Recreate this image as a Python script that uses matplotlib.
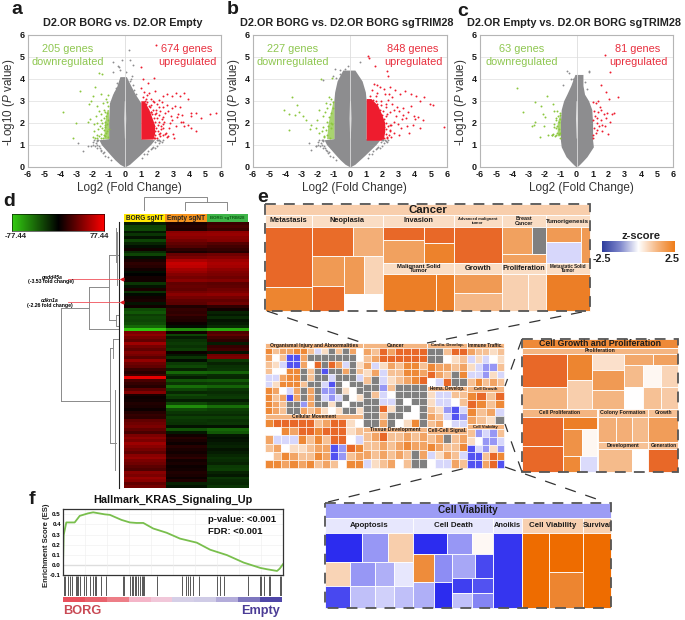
import numpy as np
import matplotlib
matplotlib.use("Agg")
import matplotlib.pyplot as plt
from matplotlib.colors import LinearSegmentedColormap
from matplotlib.patches import Rectangle

plt.rcParams['font.family'] = ['Liberation Sans', 'DejaVu Sans']
plt.rcParams['mathtext.fontset'] = 'custom'
plt.rcParams['mathtext.rm'] = 'Liberation Sans'
plt.rcParams['mathtext.it'] = 'Liberation Sans:italic'
plt.rcParams['axes.unicode_minus'] = False

W, H = 685, 620

# volcano data: gray cloud outline per -log10 P level, plus single genes
a_levels = [0.0, 0.1, 0.3, 0.5, 0.75, 1.0, 1.22, 1.27, 2.0, 2.9, 3.3, 3.65, 4.1]
a_left = [-0.05, -0.3, -0.6, -0.85, -1.15, -1.45, -1.6, -1.0, -1.0, -0.95, -0.75, -0.5, -0.3]
a_right = [0.05, 0.3, 0.6, 0.9, 1.25, 1.6, 1.85, 1.0, 1.0, 1.0, 0.65, 0.4, 0.1]
a_red_levels = [1.25, 1.5, 1.9, 2.2, 2.6, 3.0]
a_red_edge = [1.75, 1.85, 1.85, 1.7, 1.5, 1.2]
a_green_levels = [1.27, 2.0, 2.6]
a_green_edge = [-1.3, -1.25, -1.1]
a_gray_x = [-0.7, -0.4, -0.3, 0.25, 0.3, 0.5, -0.75, -0.2, 0.45, -2.6, -2.9, -2.3, -0.35, 0.1,
            -0.55, -0.45, -0.3, -0.2, -0.6, 0.5, 0.3, 0.4, 0.55, 0.7, 0.2]
a_gray_y = [4.75, 4.6, 4.4, 5.3, 4.85, 4.65, 4.3, 4.85, 4.15, 0.7, 1.05, 0.95, 4.55, 4.3,
            3.6, 3.8, 3.9, 4.0, 3.4, 3.7, 3.9, 4.0, 3.5, 3.3, 3.75]
fringe_x = [-1.7, -1.8, -1.9, -2.0, -1.6, -1.7, -1.5, -1.35, -1.25, -1.55, -2.1, -1.95, -1.3, -1.05, -0.85, -1.45, -1.75, -1.85, -1.65, -1.75,
            1.9, 2.0, 2.1, 2.2, 1.75, 1.85, 1.6, 1.45, 1.2, 2.0, 2.3, 1.1, 1.35, 1.7, 2.05, 2.35, 2.15]
fringe_y = [1.15, 1.05, 1.2, 1.1, 0.95, 0.85, 0.75, 0.6, 0.5, 0.85, 0.95, 1.0, 0.65, 0.45, 0.3, 0.7, 1.0, 0.95, 1.2, 1.22,
            1.1, 1.2, 1.05, 1.15, 0.9, 0.85, 0.8, 0.7, 0.55, 0.95, 1.1, 0.4, 0.55, 0.85, 1.2, 1.22, 1.2]
a_green_x = [-3.8, -2.75, -3.05, -3.2, -1.6, -1.4, -1.85, -1.95, -2.1, -2.2, -1.5, -1.75, -1.35, -1.15, -1.3,
             -1.05, -1.1, -1.2, -1.45, -1.6, -1.8, -2.3, -2.15, -1.9, -1.7, -1.5, -1.3, -1.15, -1.05, -1.25,
             -1.55, -1.65, -1.4, -1.3, -1.2, -1.1, -1.75, -1.9, -2.0, -1.6, -1.45, -1.3, -1.15, -1.05, -1.5,
             -1.35, -1.2, -1.1, -1.7, -1.85, -1.05, -1.2, -1.0, -1.4, -1.1]
a_green_y = [2.5, 3.45, 2.0, 1.3, 4.25, 4.2, 3.65, 3.2, 3.0, 2.85, 3.3, 2.75, 2.9, 3.1, 2.6,
             3.25, 2.95, 2.5, 2.4, 2.55, 2.3, 2.05, 2.15, 1.95, 2.0, 2.1, 2.2, 2.3, 2.75, 1.9,
             1.85, 1.7, 1.75, 1.65, 1.8, 1.95, 1.45, 1.6, 1.35, 1.4, 1.5, 1.45, 1.55, 1.35, 1.3,
             1.3, 1.4, 1.6, 1.3, 1.3, 2.1, 2.05, 1.7, 2.0, 2.45]
a_red_x = [1.95, 1.0, 1.13, 1.8, 1.45, 1.0, 2.6, 3.2, 3.4, 3.7, 3.9, 2.9, 2.4, 3.55, 4.1, 4.4, 5.3, 5.65, 4.1, 4.75,
           4.4, 4.1, 3.9, 3.6, 3.0, 2.7, 3.3, 3.1, 2.85, 2.6, 2.4, 2.2, 2.75, 2.55, 2.35, 2.95, 3.15, 3.45, 2.1, 2.3,
           2.0, 1.8, 1.6, 1.4, 1.2, 1.85, 1.55, 1.3, 2.15, 2.45, 2.25, 2.05, 2.7, 2.5, 2.15, 2.35, 2.6, 1.75, 1.95, 2.2,
           3.05, 2.8, 3.5, 3.25, 2.9, 3.65, 1.5, 1.25, 1.15, 1.65,
           1.8, 1.9, 2.0, 2.1, 1.85, 1.95, 2.05, 1.8, 1.9, 2.0, 1.8, 1.7, 1.85, 1.95, 1.6, 1.75, 1.5, 1.65, 1.4, 1.3,
           1.15, 1.75, 2.2, 2.25, 2.15, 2.3, 2.4, 2.5, 2.35, 1.9]
a_red_y = [5.55, 4.55, 4.0, 4.05, 3.8, 3.6, 3.3, 3.35, 3.2, 3.35, 3.1, 3.2, 3.2, 2.35, 2.45, 2.45, 2.4, 2.45, 2.3, 2.2,
           1.6, 1.75, 1.9, 2.05, 1.5, 1.4, 2.4, 2.75, 2.3, 2.8, 2.7, 2.55, 1.75, 1.55, 2.25, 2.1, 1.85, 2.7, 3.05, 2.95,
           2.85, 2.95, 3.1, 3.25, 3.4, 3.45, 2.7, 2.85, 2.35, 2.05, 1.85, 1.6, 2.55, 2.45, 2.7, 1.45, 1.35, 3.0, 2.6, 1.4,
           1.3, 2.0, 2.05, 2.25, 2.65, 1.85, 3.35, 3.0, 2.8, 2.5,
           1.3, 1.45, 1.3, 1.5, 1.6, 1.75, 1.9, 1.85, 2.05, 2.2, 2.2, 2.4, 2.4, 2.45, 2.5, 2.6, 2.75, 2.8, 2.95, 3.1,
           3.15, 1.35, 1.55, 1.7, 2.05, 2.15, 1.75, 1.5, 1.95, 1.3]

b_levels = [0.0, 0.1, 0.3, 0.5, 0.75, 1.0, 1.22, 1.27, 2.0, 3.0, 3.4, 3.9, 4.4]
b_left = [-0.05, -0.3, -0.6, -0.85, -1.15, -1.45, -1.6, -1.0, -1.0, -1.0, -0.95, -0.8, -0.45]
b_right = [0.05, 0.3, 0.6, 0.9, 1.25, 1.6, 1.85, 1.0, 1.0, 1.0, 0.95, 0.75, 0.3]
b_red_levels = [1.2, 1.6, 2.0, 2.4, 2.8, 3.1]
b_red_edge = [2.05, 2.15, 2.15, 1.95, 1.7, 1.3]
b_green_levels = [1.27, 2.0, 3.0]
b_green_edge = [-1.45, -1.35, -1.05]
b_gray_x = [-0.6, -0.1, 0.6, -0.85, -1.05, -2.4, -2.55, -1.7, -2.1, -0.9, -0.3, -0.6, 0.4, 0.6, 0.8]
b_gray_y = [4.4, 4.6, 4.75, 4.05, 4.15, 0.75, 1.05, 3.95, 0.95, 4.45, 4.45, 4.2, 4.0, 3.7, 3.5]
b_green_x = [-4.1, -3.75, -3.6, -3.8, -3.25, -3.15, -3.4, -2.9, -2.75, -2.4, -2.1, -2.5, -1.8, -1.5, -1.9, -2.05, -1.3, -1.2, -1.1, -1.7,
             -1.55, -1.4, -1.25, -1.15, -1.05, -1.65, -1.45, -1.3, -1.15, -1.05, -1.9, -1.75, -1.6, -1.5, -1.35, -1.2, -1.1, -1.6, -1.4, -1.25]
b_green_y = [2.6, 2.4, 3.15, 1.65, 2.8, 2.5, 2.35, 2.3, 2.1, 1.9, 1.75, 1.7, 4.0, 2.9, 2.6, 2.1, 3.15, 3.1, 4.05, 2.3,
             2.5, 2.65, 2.85, 2.45, 2.95, 1.8, 2.05, 2.25, 2.0, 2.65, 1.55, 1.6, 1.4, 1.65, 1.85, 1.75, 1.95, 1.35, 1.45, 1.3]
b_red_x = [1.1, 1.2, 1.55, 2.3, 2.35, 1.5, 1.65, 1.85, 2.1, 2.45, 2.8, 3.1, 3.4, 3.8, 4.1, 4.6, 4.95, 5.15, 5.8, 4.3,
           3.75, 3.95, 4.05, 4.2, 4.35, 3.3, 3.05, 2.9, 3.2, 2.85, 2.6, 3.5, 3.45, 2.7, 3.65, 3.15, 2.95, 2.55, 2.4, 4.5,
           3.9, 3.3, 2.35, 2.6, 2.75, 2.5, 2.25, 2.45, 2.3, 2.5, 3.0, 3.6, 2.4, 2.15, 1.9, 1.7, 2.2, 2.7, 1.35, 1.6,
           2.1, 2.2, 2.3, 2.25, 2.1, 2.2, 2.35, 2.1, 2.0, 2.2, 2.05, 1.85, 1.9, 1.7, 1.6, 1.45, 1.25, 2.45, 2.55, 2.3]
b_red_y = [5.05, 4.95, 4.6, 4.35, 4.15, 3.75, 3.7, 3.65, 3.55, 3.65, 3.5, 3.3, 3.45, 3.3, 3.2, 3.15, 2.85, 2.8, 1.8, 3.0,
           2.75, 2.3, 2.15, 2.25, 1.75, 2.35, 2.55, 2.7, 2.15, 2.3, 2.85, 1.85, 2.2, 2.05, 1.55, 1.75, 1.95, 1.35, 1.45, 2.1,
           1.9, 2.65, 3.05, 3.15, 1.55, 1.65, 2.85, 2.5, 1.3, 1.9, 1.45, 2.5, 3.3, 3.3, 3.0, 3.35, 2.7, 2.6, 3.5, 3.2,
           1.3, 1.5, 1.35, 1.7, 1.8, 2.0, 1.85, 2.15, 2.35, 2.3, 2.55, 2.6, 2.8, 2.85, 3.0, 3.05, 3.2, 1.6, 1.9, 2.4]

c_levels = [0.0, 0.1, 0.25, 0.45, 0.9, 1.2, 2.0, 2.6, 3.0, 3.3, 3.7, 4.2]
c_left = [-0.05, -0.2, -0.4, -0.65, -0.95, -1.0, -1.0, -0.95, -0.8, -0.6, -0.35, -0.1]
c_right = [0.05, 0.2, 0.4, 0.65, 1.05, 1.0, 1.0, 0.95, 0.75, 0.5, 0.4, 0.4]
c_green_levels = [1.4, 2.0, 2.35]
c_green_edge = [-1.2, -1.2, -1.05]
c_gray_x = [-0.6, -0.45, 0.75, 0.8, -0.2, -0.35, 0.65, -0.85, 0.55]
c_gray_y = [4.35, 4.25, 4.35, 4.3, 4.0, 4.0, 3.55, 3.7, 3.85]
c_green_x = [-3.7, -3.3, -2.6, -2.2, -2.75, -2.65, -2.55, -2.0, -1.85, -1.45, -1.4, -2.3, -1.75, -1.55, -1.35, -1.2, -1.05, -1.1, -1.25, -1.1,
             -1.05, -1.4, -1.3, -1.15, -1.45, -1.5, -1.2, -1.05, -1.25, -1.1, -1.4, -1.0, -1.95, -2.1, -1.2, -1.05, -1.3]
c_green_y = [3.6, 2.5, 2.95, 2.75, 1.85, 1.9, 2.05, 1.85, 3.2, 2.85, 2.55, 1.35, 1.45, 1.45, 1.4, 1.55, 2.35, 2.05, 1.75, 1.7,
             2.15, 1.95, 2.2, 2.3, 1.5, 1.45, 1.85, 2.45, 2.1, 1.5, 1.8, 1.55, 2.25, 2.4, 2.55, 1.3, 1.45]
c_red_x = [1.8, 2.1, 1.55, 1.85, 2.0, 2.6, 1.0, 1.2, 1.35, 1.45, 1.55, 1.9, 2.2, 2.35, 2.1, 1.7, 1.3, 1.1, 1.05, 1.25,
           1.4, 1.6, 1.8, 1.95, 1.2, 1.05, 1.5, 1.3, 1.1, 1.85, 1.15, 1.35, 1.6, 1.05]
c_red_y = [5.1, 4.3, 3.7, 3.4, 3.1, 3.15, 2.95, 2.9, 3.0, 2.7, 2.6, 2.45, 2.4, 2.45, 2.05, 2.4, 2.2, 2.55, 2.1, 2.0,
           1.85, 1.9, 1.85, 1.5, 1.55, 1.3, 2.1, 1.65, 1.75, 2.2, 2.3, 2.5, 1.6, 1.45]

# heatmap rows (values between -77.44 and 77.44)
heat_borg = [-12, -28, -30, -10, -22, -8, -28, -15, -6, 6,
             -18, -28, -6, 8, 14, 12, 6, -5, 0, 6,
             6, -22, -8, 8, -20, -4, 6, 8, -8, 5,
             -30, -36, -25, -30, -28, -32, -42, -75, 38, 44,
             36, 30, 48, 36, 30, 40, 36, 28, 45, 34,
             30, 18, 12, 20, 70, 22, 16, 12, 28, 40,
             8, 4, 6, 10, 8, 4, 12, 16, 14, 30,
             34, 38, 30, 22, 38, 44, 38, 48, 42, 36,
             30, 42, 46, 38, 34, 28, 24, 42, 38, 46,
             42, 30, 36]
heat_empty = [8, 12, 10, 42, 45, 42, 36, 30, 25, 14,
              8, 32, 38, 52, 60, 58, 50, 46, 40, 36,
              42, 30, 32, 30, 36, 42, 36, 30, 28, 10,
              16, 14, 18, 12, 10, 4, -6, -55, 6, -28,
              -12, -20, -24, -20, -26, 4, -10, -22, -6, -24,
              -30, -14, -42, -22, -12, -34, -22, -44, -28, -16,
              -30, -24, -12, -30, -55, -30, -22, -18, -26, -22,
              -20, -8, -34, -10, 6, 12, 8, 4, 12, 8,
              6, 10, 14, 6, 8, 4, 6, 10, 8, 4,
              10, -14, -8]
heat_trim = [18, 22, 18, 44, 46, 42, 40, 26, 20, 16,
             12, 34, 40, 48, 52, 50, 44, 40, 38, 34,
             40, 28, 30, 34, 38, 44, 36, 30, 34, 14,
             6, -14, -10, -18, -8, -12, -18, -65, 24, 30,
             20, 14, -12, 16, 20, -8, 34, 38, -24, -14,
             -20, -22, -40, -18, -16, -36, -24, -40, -22, -18,
             -22, -24, -12, -22, -44, -26, -22, -18, -26, -20,
             -22, -8, -42, -36, -10, -6, -8, -12, -14, -8,
             -12, -16, -20, -18, -14, -24, -26, -14, -10, -22,
             -18, -16, -22]
heat_labels = ["BORG sgNT", "Empty sgNT", "BORG sgTRIM28"]

# GSEA curve
es_rank = [0, 0.3, 1.5, 5.3, 7.6, 11.4, 13.7, 19, 21.3, 26.6, 30.4, 33.4, 36.5, 41, 47.1, 53.2, 60.8, 66.9, 74.5, 82.1, 89.7, 92.7, 97.3, 98.5, 100]
es_score = [0, 0.295, 0.42, 0.42, 0.485, 0.51, 0.52, 0.50, 0.495, 0.445, 0.42, 0.415, 0.415, 0.36, 0.318, 0.26, 0.22, 0.15, 0.097, 0.023, -0.03, -0.043, -0.06, -0.037, 0.007]
hit_rank = [0.5, 1.1, 2.3, 3.3, 4.3, 5.8, 6.4, 6.8, 7.6, 9.6, 10.6, 12.2, 13.7, 14.4, 15.2, 17.2, 19.5,
            27.1, 27.7, 30.4, 31.2, 31.9, 32.7, 33.4, 34.2, 35, 35.7, 36.5, 36.9, 42.6,
            53.9, 55.8, 57, 57.8, 59.3, 61.6, 69.9, 71.4, 73, 83.9, 89.4, 90.1, 91.2, 93.5, 93.9, 98.5, 99.1]
strip_colors = ['#e8505c', '#e9636d', '#ee7f88', '#f4b5c8', '#f1c8da', '#d6d0e8', '#cfcbe6', '#b5aedb', '#7f78c0', '#4f47a8']

# treemap z scores; None is a gray cell, ('h'|'v', [(weight, child), ...]) splits a box
GRAY = None
T_metastasis = ('v', [(180, 2.25), (72, 1.9)])
T_neoplasia = ('v', [(88, ('h', [(123, 2.2), (92, 1.3)])),
                     (164, ('h', [(98, ('v', [(89, 1.6), (75, 2.2)])),
                                  (117, ('v', [(114, ('h', [(59, 1.6), (58, 0.7)])), (50, 0.0)]))]))])
T_invasion = ('h', [(123, ('v', [(40, 2.25), (68, 1.5)])), (90, ('v', [(50, 2.25), (58, 1.95)]))])
T_malignant = ('h', [(157, 2.0), (56, 2.0)])
T_advanced = 2.25
T_growth = ('v', [(58, 1.6), (52, 1.15)])
T_breast = ('v', [(83, ('h', [(90, 1.5), (43, GRAY)])), (25, 1.5)])
T_prolif = ('h', [(80, 0.75), (53, 0.7)])
T_tumorigen = ('h', [(104, ('v', [(45, 1.6), (63, -0.5)])), (28, 1.6)])
T_metastatic = 2.0

G_prolif = ('h', [(135, ('v', [(98, 2.25), (67, 1.2)])),
                  (75, ('v', [(78, 1.9), (87, 0.8)])),
                  (96, ('v', [(48, 0.5), (60, 1.6), (57, 1.2)])),
                  (162, ('v', [(33, ('h', [(85, 1.4), (77, 1.5)])),
                               (67, ('h', [(57, 1.1), (53, 0.12), (52, 0.7)])),
                               (65, ('h', [(57, 0.0), (53, 1.0), (52, 0.85)]))]))])
G_cellprolif = ('h', [(123, ('v', [(88, 2.25), (79, 2.25)])),
                      (100, ('v', [(37, 2.0), (80, ('h', [(55, 1.7), (45, 0.12)])),
                                   (50, ('h', [(50, 1.85), (50, -0.45)]))]))])
G_colony = ('h', [(54, 1.3), (48, 1.3), (50, 1.1)])
G_growth = 1.55
G_dev = ('h', [(102, 1.1), (50, 0.0)])
G_gen = 2.25

V_apoptosis = ('v', [(87, ('h', [(110, -2.4), (78, -1.3), (77, 0.8)])),
                     (73, ('h', [(75, 0.7), (75, -1.3), (58, -1.0), (57, -0.3)])),
                     (67, ('h', [(75, -2.1), (75, -0.8), (58, -0.6), (57, -0.8)]))])
V_death = ('v', [(65, ('h', [(102, -2.4), (73, -1.3), (63, 0.1)])),
                 (162, ('h', [(62, ('v', [(82, 1.8), (80, -1.0)])),
                              (55, ('v', [(82, -1.4), (80, -2.4)])),
                              (121, ('v', [(72, ('h', [(68, -1.1), (53, -2.1)])),
                                           (45, ('h', [(60, -2.2), (61, -2.0)])),
                                           (45, ('h', [(60, -0.8), (61, -1.5)]))]))]))])
V_anoikis = -2.3
V_viability = ('h', [(83, 2.5), (100, ('v', [(117, 2.5), (110, 1.9)]))])
V_survival = 2.5

# overview map cells, one letter for each z score level
Z_CODE = {'O': 2.25, 'o': 1.85, 'm': 1.45, 'l': 1.0, 'p': 0.55, 'w': 0.0, 'b': -0.5, 'B': -1.3, 'D': -2.0, 'x': GRAY}
M_organismal = ["olmmoolbpxlxmw", "mwlDDmxxxxxxxw", "lpbDDmwOxOmbxp", "lwwooxlxDxxmxl", "bbmooxlxxbxxxb",
                "bpooolxxbDxwxx", "omwbmxmxBBxpwx", "olmDmxmxbBbxwp", "omlxxBmxxpxwxx", "omlxxmlmpwpxxp"]
M_movement = ["oOOOOOlmOOpw", "wwomOOoOOOpl", "mbbbololOOwb", "lmwpplmmDBOo", "wlomllomDBlm", "oomomolmlwoo"]
M_cancer = ["mlOmOOOO", "lmOOOOOO", "mbpmlool", "pmblloom", "lxbplmoO", "xxBlxxxx", "xlbwxxxx",
            "xxbbxwxx", "xxOpxxwx", "xxlxxwwx", "xxmxwpox"]
M_tissue = ["lmOllmlm", "llmlmomm", "mlmlmlxm", "bplmwlxx"]
M_cardio = ["xxlOO", "xxwpl", "ommlm", "Omlxo", "wbOxx"]
M_hema = ["pbbll", "pbbwl", "lpBDb", "mlbDB", "lmwbb"]
M_signal = ["lmxlm", "omllo", "bpmlb", "wbbml"]
M_immune = ["mllpl", "bpbwp", "pbBBl", "bbBpb", "lolml"]
M_cellgrowth = ["oOlO", "Oolo", "olmb", "mlpx"]
M_viability = ["lBbBl", "pwBBb", "DbBpB", "DDlOo", "DDmOD"]

zcmap = LinearSegmentedColormap.from_list('z', [(0, '#2222ee'), (0.25, '#9c9cf5'), (0.5, '#ffffff'), (0.75, '#f4b27c'),
                                                (0.9, '#ec7f26'), (0.95, '#e8682a'), (1, '#ee6c00')])
gapcmap = LinearSegmentedColormap.from_list('gap', ['#33cc11', '#000000', '#ff0000'])
heatcmap = LinearSegmentedColormap.from_list('heat', ['#33cc11', '#135e07', '#000000', '#7e0000', '#ff0000'])
es_green = '#79bf4d'


def zcolor(z):
    if z is None:
        return '#808080'
    return zcmap((z + 2.5) / 5)


def px_axes(left, top, right, bottom):
    return fig.add_axes([left / W, 1 - bottom / H, (right - left) / W, (bottom - top) / H])


def volcano(box, levels, left, right, gray, green, red, green_core, core=None):
    ax = px_axes(*box)
    ax.set_xlim(-6, 6)
    ax.set_ylim(0, 6)
    ax.set_xticks(range(-6, 7))
    ax.set_yticks(range(0, 7))
    ax.grid(axis='y', color='#e4e4e4', linewidth=0.6)
    ax.axvline(0, color='#dddddd', linewidth=0.6)
    ax.set_axisbelow(True)
    c_gray = '#8d8d8f'
    ax.fill_betweenx(levels, left, right, color=c_gray, linewidth=0)
    # pale channel at zero
    ax.fill_betweenx([1.3, 2.2, 3.0], [-0.02, -0.06, -0.03], [0.02, 0.06, 0.03], color='white', linewidth=0, alpha=0.75)
    ax.fill_betweenx(green_core[0], -1.0, green_core[1], color='#8cc63f', linewidth=0, alpha=0.75)
    if core is not None:
        ax.fill_betweenx(core[0], 1.0, core[1], color='#ee1c2e', linewidth=0)
    ax.scatter(*gray, s=1.8, color=c_gray, linewidths=0)
    ax.scatter(*green, s=2.0, color='#8cc63f', linewidths=0)
    ax.scatter(*red, s=2.0, color='#ee1c2e', linewidths=0)
    ax.tick_params(length=0, pad=2.5, labelsize=6.5, labelcolor='#1a1a1a')
    for t in ax.get_xticklabels() + ax.get_yticklabels():
        t.set_fontweight('bold')
    for s in ax.spines.values():
        s.set_color('#b5b5b5')
        s.set_linewidth(0.8)
    ax.set_xlabel("Log2 (Fold Change)", fontsize=8.5, color='#333333')
    ax.xaxis.set_label_coords(0.525, -0.115)
    ax.set_ylabel(r"-Log10 ($\it{P}$ value)", fontsize=8.4, color='#333333')
    ax.yaxis.set_label_coords(-0.057, 0.49)
    return ax


def split(node, x0, y0, x1, y1, out):
    if isinstance(node, tuple):
        total = sum(w for w, _ in node[1])
        pos = 0
        for w, child in node[1]:
            if node[0] == 'h':
                split(child, x0 + (x1 - x0) * pos / total, y0, x0 + (x1 - x0) * (pos + w) / total, y1, out)
            else:
                split(child, x0, y0 + (y1 - y0) * pos / total, x1, y0 + (y1 - y0) * (pos + w) / total, out)
            pos += w
    else:
        out.append((x0, y0, x1, y1, node))


def treemap(node, box, lw=0.6):
    cells = []
    split(node, *box, cells)
    for x0, y0, x1, y1, z in cells:
        ov.add_patch(Rectangle((x0, y0), x1 - x0, y1 - y0, facecolor=zcolor(z), edgecolor='white', linewidth=lw))


def grid_tree(rows):
    return ('v', [(1, ('h', [(1, Z_CODE[c]) for c in r])) for r in rows])


def band(box, z, text=None, size=6, color='#1a1a1a', weight='bold'):
    ov.add_patch(Rectangle((box[0], box[1]), box[2] - box[0], box[3] - box[1], facecolor=zcolor(z), edgecolor='white', linewidth=0.6))
    if text:
        ov.text((box[0] + box[2]) / 2, (box[1] + box[3]) / 2, text, fontsize=size, fontweight=weight, color=color,
                ha='center', va='center', linespacing=0.8)


def dashed_frame(box):
    ov.add_patch(Rectangle((box[0], box[1]), box[2] - box[0], box[3] - box[1], fill=False, edgecolor='#555555',
                           linewidth=1.3, linestyle=(0, (6, 4.5)), zorder=5))


def dashed_line(p, q):
    ov.plot([p[0], q[0]], [p[1], q[1]], color='#333333', linewidth=0.9, linestyle=(0, (9, 8)))


fig = plt.figure(figsize=(W / 100, H / 100), dpi=100)

# overlay in picture pixels for labels, treemaps and the heatmap dendrogram
ov = fig.add_axes([0, 0, 1, 1], zorder=5)
ov.set_xlim(0, W)
ov.set_ylim(H, 0)
ov.axis('off')
ov.patch.set_alpha(0)

# panels a, b, c
volcano((28, 35, 221.5, 166.5), a_levels, a_left, a_right, (a_gray_x + fringe_x, a_gray_y + fringe_y), (a_green_x, a_green_y), (a_red_x, a_red_y),
        (a_green_levels, a_green_edge), (a_red_levels, a_red_edge))
volcano((253, 35, 447, 166.5), b_levels, b_left, b_right, (b_gray_x + fringe_x, b_gray_y + fringe_y), (b_green_x, b_green_y), (b_red_x, b_red_y),
        (b_green_levels, b_green_edge), (b_red_levels, b_red_edge))
volcano((480, 35, 673, 166.5), c_levels, c_left, c_right, (c_gray_x, c_gray_y), (c_green_x, c_green_y), (c_red_x, c_red_y),
        (c_green_levels, c_green_edge))

titles = [(123, "D2.OR BORG vs. D2.OR Empty"), (347, "D2.OR BORG vs. D2.OR BORG sgTRIM28"), (574, "D2.OR Empty vs. D2.OR BORG sgTRIM28")]
for x, t in titles:
    ov.text(x, 23, t, fontsize=7.8, fontweight='bold', color='#222222', ha='center', va='center')

gene_text = [(68, 187, "205", "674"), (293, 413, "227", "848"), (522, 638, "63", "81")]
for xg, xr, ng, nr in gene_text:
    ov.text(xg, 49.5, ng + " genes", fontsize=7.9, color='#8fc751', ha='center', va='center')
    ov.text(xg, 62, "downregulated", fontsize=7.9, color='#8fc751', ha='center', va='center')
    ov.text(xr, 49.5, nr + " genes", fontsize=7.9, color='#e8303f', ha='center', va='center')
    ov.text(xr, 62, "upregulated", fontsize=7.9, color='#e8303f', ha='center', va='center')

for x, y, s in [(17, 10, 'a'), (233, 10, 'b'), (463, 11, 'c'), (9, 201, 'd'), (263, 198, 'e'), (32, 500, 'f')]:
    ov.text(x, y, s, fontsize=14, fontweight='bold', color='#1a1a1a', ha='center', va='center')

# panel d
ax_heat = px_axes(124, 222, 248, 488)
heat = np.array([heat_borg, heat_empty, heat_trim]).T
ax_heat.imshow(heat, cmap=heatcmap, vmin=-77.44, vmax=77.44, aspect='auto', interpolation='nearest')
ax_heat.axis('off')

head_col = ['#ffe800', '#f7941d', '#3fb54a']
head_txt = [('#222222', 4.7), ('#222222', 4.7), ('#0b5a12', 3.2)]
col_w = (248 - 124) / 3
for i, lab in enumerate(heat_labels):
    ov.add_patch(Rectangle((124 + i * col_w, 214), col_w, 8, facecolor=head_col[i], edgecolor='none'))
    ov.text(124 + (i + 0.5) * col_w, 218, lab, fontsize=head_txt[i][1], fontweight='bold', color=head_txt[i][0], ha='center', va='center')

ax_gap = px_axes(12, 214, 104, 231)
ax_gap.imshow(np.linspace(-77.44, 77.44, 200)[None, :], cmap=gapcmap, aspect='auto')
ax_gap.set_xticks([])
ax_gap.set_yticks([])
for s in ax_gap.spines.values():
    s.set_linewidth(0.4)
ov.text(16, 236.5, "-77.44", fontsize=5.6, fontweight='bold', ha='center', va='center', color='#222222')
ov.text(99, 236.5, "77.44", fontsize=5.6, fontweight='bold', ha='center', va='center', color='#222222')

dendro_gray = [((144, 144, 207, 207), (210, 197, 197, 202)), ((185, 185, 227, 227), (210, 202, 202, 210)),
               ((61, 61), (308, 401)), ((61, 89.5), (308, 308)), ((61, 110), (401, 401)),
               ((89.5, 89.5), (287, 329)), ((89.5, 109), (287, 287)), ((89.5, 118), (329, 329)),
               ((109, 109), (255, 320)), ((109, 118), (255, 255)), ((109, 116), (320, 320)),
               ((116, 116, 119), (315, 326, 326)), ((116, 119), (315, 315)), ((116, 116), (228, 262)),
               ((110, 110), (348, 443)), ((110, 113), (348, 348)), ((110, 116), (443, 443)),
               ((113, 113), (339, 358)), ((113, 118), (339, 339)), ((115, 115), (390, 470)), ((117, 117), (232, 285))]
for xs, ys in dendro_gray:
    ov.plot(xs, ys, color='#8a8a8a', linewidth=0.7)
ov.plot([119.5, 119.5], [222, 488], color='#222222', linewidth=0.8)

ov.plot([68, 122], [279, 279], color='#f0505a', linewidth=0.6)
ov.plot([122], [279], marker='<', color='#e01b24', markersize=2)
ov.plot([68, 122], [302, 302], color='#f0505a', linewidth=0.6)
ov.plot([122], [302], marker='<', color='#e01b24', markersize=2)
ov.text(51, 277, "gadd45a", fontsize=3.7, fontweight='bold', style='italic', ha='center', va='center')
ov.text(51, 282, "(-3.53 fold change)", fontsize=3.7, fontweight='bold', ha='center', va='center')
ov.text(50, 300, "cdkn1a", fontsize=3.7, fontweight='bold', style='italic', ha='center', va='center')
ov.text(50, 305, "(-2.26 fold change)", fontsize=3.7, fontweight='bold', ha='center', va='center')

# panel e: cancer detail
cx = lambda v: 260 + v / 3
cy = lambda v: 190 + v / 3
band((cx(15), cy(42), cx(990), cy(76)), 0.8, "Cancer", size=8.2)
heads = [(15, 155, "Metastasis", 5.3), (155, 370, "Neoplasia", 5.3), (370, 583, "Invasion", 5.3), (583, 725, "Advanced malignant\ntumor", 2.9),
         (725, 858, "Breast\nCancer", 3.9), (858, 990, "Tumorigenesis", 4.4)]
for x0, x1, t, sz in heads:
    band((cx(x0), cy(76), cx(x1), cy(110)), 0.55, t, size=sz)
treemap(T_metastasis, (cx(15), cy(110), cx(155), cy(362)))
treemap(T_neoplasia, (cx(155), cy(110), cx(370), cy(362)))
treemap(T_invasion, (cx(370), cy(110), cx(583), cy(218)))
treemap(T_advanced, (cx(583), cy(110), cx(725), cy(218)))
treemap(T_breast, (cx(725), cy(110), cx(858), cy(218)))
treemap(T_tumorigen, (cx(858), cy(110), cx(990), cy(218)))
heads2 = [(370, 583, "Malignant Solid\nTumor", 4.2), (583, 725, "Growth", 5.5), (725, 858, "Proliferation", 5.2), (858, 990, "Metastatic Solid\nTumor", 3.3)]
for x0, x1, t, sz in heads2:
    band((cx(x0), cy(218), cx(x1), cy(252)), 0.55, t, size=sz)
treemap(T_malignant, (cx(370), cy(252), cx(583), cy(362)))
treemap(T_growth, (cx(583), cy(252), cx(725), cy(362)))
treemap(T_prolif, (cx(725), cy(252), cx(858), cy(362)))
treemap(T_metastatic, (cx(858), cy(252), cx(990), cy(362)))
dashed_frame((cx(15), cy(42), cx(990), cy(362)))

# panel e: overview map
mx = lambda v: 260 + v / 3
my = lambda v: 330 + v / 3
overview = [(15, 308, 38, 53, 252, "Organismal Injury and Abnormalities", M_organismal, 3.6),
            (15, 308, 252, 268, 413, "Cellular Movement", M_movement, 3.5),
            (310, 502, 38, 53, 290, "Cancer", M_cancer, 3.7),
            (310, 502, 290, 305, 413, "Tissue Development", M_tissue, 3.7),
            (502, 622, 38, 53, 168, "Cardio. Develop.", M_cardio, 3.1),
            (502, 622, 168, 183, 292, "Hema. Develop.", M_hema, 3.3),
            (502, 622, 292, 313, 413, "Cell-Cell Signal.", M_signal, 3.6),
            (622, 732, 38, 53, 168, "Immune Traffic.", M_immune, 3.3),
            (622, 732, 168, 185, 282, "Cell Growth", M_cellgrowth, 3.1),
            (622, 732, 282, 298, 413, "Cell Viability", M_viability, 3.1)]
for x0, x1, y0, y1, y2, name, rows, sz in overview:
    band((mx(x0), my(y0), mx(x1), my(y1)), 1.2, name, size=sz)
    treemap(grid_tree(rows), (mx(x0), my(y1), mx(x1), my(y2)), lw=0.4)

# panel e: cell growth detail
gx = lambda v: 510 + v / 3
gy = lambda v: 330 + v / 3
band((gx(37), gy(27), gx(505), gy(53)), 1.85, "Cell Growth and Proliferation", size=6.3)
band((gx(37), gy(53), gx(505), gy(72)), 1.2, "Proliferation", size=3.7)
treemap(G_prolif, (gx(37), gy(72), gx(505), gy(237)))
band((gx(37), gy(237), gx(260), gy(260)), 1.2, "Cell Proliferation", size=3.6)
treemap(G_cellprolif, (gx(37), gy(260), gx(260), gy(427)))
band((gx(263), gy(237), gx(415), gy(260)), 1.0, "Colony Formation", size=3.8)
band((gx(415), gy(237), gx(505), gy(260)), 1.0, "Growth", size=3.6)
treemap(G_colony, (gx(263), gy(260), gx(415), gy(337)))
treemap(G_growth, (gx(415), gy(260), gx(505), gy(337)))
band((gx(263), gy(337), gx(415), gy(358)), 1.0, "Development", size=3.7)
band((gx(415), gy(337), gx(505), gy(358)), 1.0, "Generation", size=3.5)
treemap(G_dev, (gx(263), gy(358), gx(415), gy(427)))
treemap(G_gen, (gx(415), gy(358), gx(505), gy(427)))
dashed_frame((gx(37), gy(27), gx(505), gy(427)))

# panel e: cell viability detail
vx = lambda v: 310 + v / 3
vy = lambda v: 480 + v / 3
band((vx(45), vy(68), vx(903), vy(113)), -1.25, "Cell Viability", size=7.2)
for x0, x1, t, z, sz in [(45, 310, "Apoptosis", -0.3, 5.7), (310, 548, "Cell Death", -0.3, 5.7), (548, 635, "Anoikis", -0.3, 5.4),
                         (635, 818, "Cell Viability", 0.75, 5.7), (818, 903, "Survival", 0.75, 5.3)]:
    band((vx(x0), vy(113), vx(x1), vy(158)), z, t, size=sz)
treemap(V_apoptosis, (vx(45), vy(158), vx(310), vy(385)))
treemap(V_death, (vx(310), vy(158), vx(548), vy(385)))
treemap(V_anoikis, (vx(548), vy(158), vx(635), vy(385)))
treemap(V_viability, (vx(635), vy(158), vx(818), vy(385)))
treemap(V_survival, (vx(818), vy(158), vx(903), vy(385)))
dashed_frame((vx(45), vy(68), vx(903), vy(385)))

# zoom guide lines between the maps
dashed_line((267, 311), (363, 343))
dashed_line((582, 312), (427, 343))
dashed_line((522, 339), (505, 386))
dashed_line((522, 472), (505, 424))
dashed_line((505, 467), (605, 502))
dashed_line((328, 502), (466, 468))

# z-score scale
ax_z = px_axes(602, 241, 675, 252)
ax_z.imshow(np.linspace(-2.5, 2.5, 200)[None, :], cmap=LinearSegmentedColormap.from_list('zbar', ['#2f3e9e', '#8088cc', '#ffffff', '#f6b884', '#ef7d1a']), aspect='auto')
ax_z.axis('off')
ov.text(641, 236, "z-score", fontsize=8, fontweight='bold', color='#222222', ha='center', va='center')
ov.text(602, 259, "-2.5", fontsize=7.8, fontweight='bold', color='#222222', ha='center', va='center')
ov.text(672, 259, "2.5", fontsize=7.8, fontweight='bold', color='#222222', ha='center', va='center')

# panel f
ax_es = px_axes(63, 509, 283, 575)
ax_es.plot(es_rank, es_score, color=es_green, linewidth=1.3)
ax_es.set_xlim(0, 100)
ax_es.set_ylim(-0.1, 0.553)
ax_es.axhline(0, color='#c8c8c8', linewidth=0.9, zorder=0)
ax_es.set_yticks([-0.1, 0, 0.1, 0.2, 0.3, 0.4, 0.5])
ax_es.set_xticks(range(10, 100, 10))
ax_es.set_xticklabels([])
ax_es.grid(color='#eeeeee', linewidth=0.4)
ax_es.set_axisbelow(True)
ax_es.tick_params(length=0, pad=1.5, labelsize=4.5)
for t in ax_es.get_yticklabels():
    t.set_fontweight('bold')
for s in ax_es.spines.values():
    s.set_linewidth(0.9)
    s.set_color('#333333')
ov.text(46.5, 545, "Enrichment Score (ES)", fontsize=5.6, fontweight='bold', rotation=90, ha='center', va='center', color='#222222')

ax_hit = px_axes(63, 576, 283, 596)
ax_hit.vlines(hit_rank, 0, 1, color='#2a2a2a', linewidth=0.55)
ax_hit.set_xlim(0, 100)
ax_hit.set_ylim(0, 1)
ax_hit.axis('off')

ax_strip = px_axes(63, 596.5, 282, 602)
ax_strip.imshow(np.arange(len(strip_colors))[None, :], cmap=LinearSegmentedColormap.from_list('s', strip_colors), aspect='auto')
ax_strip.axis('off')

ov.text(173, 500, "Hallmark_KRAS_Signaling_Up", fontsize=7.8, fontweight='bold', color='#111111', ha='center', va='center')
ov.text(208, 520, "p-value: <0.001", fontsize=6.8, fontweight='bold', color='#111111', ha='left', va='center')
ov.text(208, 531, "FDR: <0.001", fontsize=6.8, fontweight='bold', color='#111111', ha='left', va='center')
ov.text(63, 611, "BORG", fontsize=9.2, fontweight='bold', color='#c94a55', ha='left', va='center')
ov.text(280, 611, "Empty", fontsize=9.2, fontweight='bold', color='#4b3c96', ha='right', va='center')

fig.savefig("out.png", dpi=100)
